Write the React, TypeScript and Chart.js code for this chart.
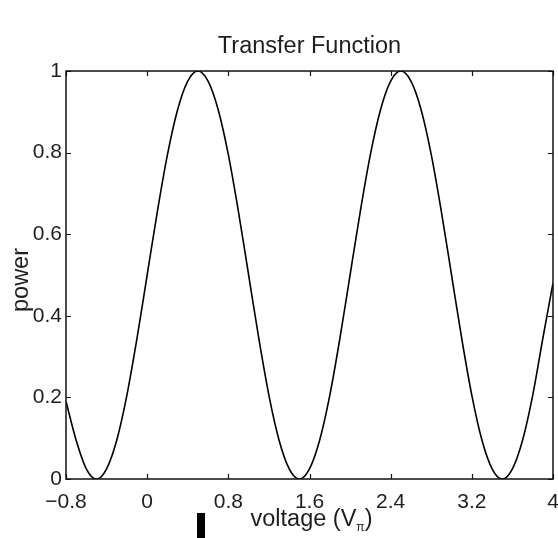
import React, { useEffect, useRef } from "react";
import { Chart, registerables } from "chart.js";

Chart.register(...registerables);

const voltages = [
  -0.8, -0.7, -0.6, -0.5, -0.4, -0.3, -0.2, -0.1, 0.0, 0.1, 0.2, 0.3, 0.4, 0.5,
  0.6, 0.7, 0.8, 0.9, 1.0, 1.1, 1.2, 1.3, 1.4, 1.5, 1.6, 1.7, 1.8, 1.9, 2.0,
  2.1, 2.2, 2.3, 2.4, 2.5, 2.6, 2.7, 2.8, 2.9, 3.0, 3.1, 3.2, 3.3, 3.4, 3.5,
  3.6, 3.7, 3.8, 3.9, 4.0,
];
const power = [
  0.19, 0.095, 0.025, 0.0, 0.025, 0.095, 0.205, 0.345, 0.5, 0.655, 0.795, 0.905,
  0.975, 1.0, 0.975, 0.905, 0.795, 0.655, 0.5, 0.345, 0.205, 0.095, 0.025, 0.0,
  0.025, 0.095, 0.205, 0.345, 0.5, 0.655, 0.795, 0.905, 0.975, 1.0, 0.975,
  0.905, 0.795, 0.655, 0.5, 0.345, 0.205, 0.095, 0.025, 0.0, 0.025, 0.095,
  0.205, 0.345, 0.48,
];

const xTickValues = [-0.8, 0, 0.8, 1.6, 2.4, 3.2, 4];
const xTickLabels = ["\u22120.8", "0", "0.8", "1.6", "2.4", "3.2", "4"];
const yTickValues = [0, 0.2, 0.4, 0.6, 0.8, 1];
const yTickLabels = ["0", "0.2", "0.4", "0.6", "0.8", "1"];

const titleText = "Transfer Function";
const xLabelMain = "voltage (V";
const xLabelSub = "\u03c0";
const xLabelEnd = ")";
const yLabelText = "power";

const FONT = '"Liberation Sans", Arial, Helvetica, sans-serif';
const TEXT = "#1e1e1e";

const framePlugin = {
  id: "frame",
  afterDraw(chart: any) {
    const { ctx, chartArea } = chart;
    const { left, right, top, bottom } = chartArea;
    const xs = chart.scales.x;
    const ys = chart.scales.y;
    ctx.save();
    ctx.strokeStyle = "#111";
    ctx.lineWidth = 1.5;
    ctx.strokeRect(left, top, right - left, bottom - top);
    ctx.lineWidth = 1.2;
    ctx.beginPath();
    const tl = 5;
    xTickValues.forEach((v) => {
      const px = Math.round(xs.getPixelForValue(v)) + 0.5;
      ctx.moveTo(px, bottom);
      ctx.lineTo(px, bottom - tl);
      ctx.moveTo(px, top);
      ctx.lineTo(px, top + tl);
    });
    yTickValues.forEach((v) => {
      const py = Math.round(ys.getPixelForValue(v)) + 0.5;
      ctx.moveTo(left, py);
      ctx.lineTo(left + tl, py);
      ctx.moveTo(right, py);
      ctx.lineTo(right - tl, py);
    });
    ctx.stroke();

    const mainFont = `23.5px ${FONT}`;
    const subFont = `12px ${FONT}`;
    ctx.fillStyle = TEXT;

    // title, centred over the plot area
    ctx.font = mainFont;
    ctx.textAlign = "center";
    ctx.textBaseline = "alphabetic";
    ctx.fillText(titleText, (left + right) / 2, 53);

    // x axis label with subscript
    ctx.textAlign = "left";
    ctx.font = mainFont;
    const w1 = ctx.measureText(xLabelMain).width;
    const w3 = ctx.measureText(xLabelEnd).width;
    ctx.font = subFont;
    const w2 = ctx.measureText(xLabelSub).width;
    const total = w1 + w2 + w3;
    const cx = (left + right) / 2 + 2;
    const x0 = cx - total / 2;
    const base = 526;
    ctx.font = mainFont;
    ctx.fillText(xLabelMain, x0, base);
    ctx.font = subFont;
    ctx.fillText(xLabelSub, x0 + w1, base + 5);
    ctx.font = mainFont;
    ctx.fillText(xLabelEnd, x0 + w1 + w2, base);

    // y axis label
    ctx.save();
    ctx.translate(28, 280);
    ctx.rotate(-Math.PI / 2);
    ctx.textAlign = "center";
    ctx.textBaseline = "alphabetic";
    ctx.font = mainFont;
    ctx.fillText(yLabelText, 0, 0);
    ctx.restore();

    ctx.restore();
  },
};

export default function App() {
  const ref = useRef<HTMLCanvasElement | null>(null);

  useEffect(() => {
    if (!ref.current) return;
    Chart.defaults.font.family = FONT;
    const chart = new Chart(ref.current, {
      type: "line",
      data: {
        datasets: [
          {
            data: voltages.map((v, i) => ({ x: v, y: power[i] })),
            borderColor: "#000",
            borderWidth: 1.6,
            pointRadius: 0,
            cubicInterpolationMode: "monotone",
            fill: false,
          },
        ],
      },
      options: {
        animation: false,
        responsive: false,
        maintainAspectRatio: false,
        layout: { padding: { left: 0, right: 5, top: 71, bottom: 0 } },
        plugins: {
          legend: { display: false },
          tooltip: { enabled: false },
          title: { display: false },
        },
        scales: {
          x: {
            type: "linear",
            min: -0.8,
            max: 4,
            grid: { display: false, drawTicks: false },
            border: { display: false },
            afterBuildTicks: (s: any) => {
              s.ticks = xTickValues.map((v) => ({ value: v }));
            },
            afterFit: (s: any) => {
              s.height = 59;
              s.paddingLeft = 0;
              s.paddingRight = 0;
            },
            ticks: {
              autoSkip: false,
              maxRotation: 0,
              color: TEXT,
              font: { size: 21 },
              padding: 11,
              callback: (_v: any, i: number) => xTickLabels[i],
            },
          },
          y: {
            type: "linear",
            min: 0,
            max: 1,
            grid: { display: false, drawTicks: false },
            border: { display: false },
            afterBuildTicks: (s: any) => {
              s.ticks = yTickValues.map((v) => ({ value: v }));
            },
            afterFit: (s: any) => {
              s.width = 66;
              s.paddingTop = 0;
              s.paddingBottom = 0;
            },
            ticks: {
              autoSkip: false,
              color: TEXT,
              font: { size: 21 },
              padding: 4,
              callback: (_v: any, i: number) => yTickLabels[i],
            },
          },
        },
      },
      plugins: [framePlugin],
    });
    return () => chart.destroy();
  }, []);

  return (
    <div style={{ position: "fixed", left: 0, top: 0, width: 558, height: 538, background: "#fff" }}>
      <canvas ref={ref} width={558} height={538} style={{ display: "block" }} />
      <div style={{ position: "absolute", left: 197, top: 513, width: 8, height: 25, background: "#000" }} />
    </div>
  );
}
